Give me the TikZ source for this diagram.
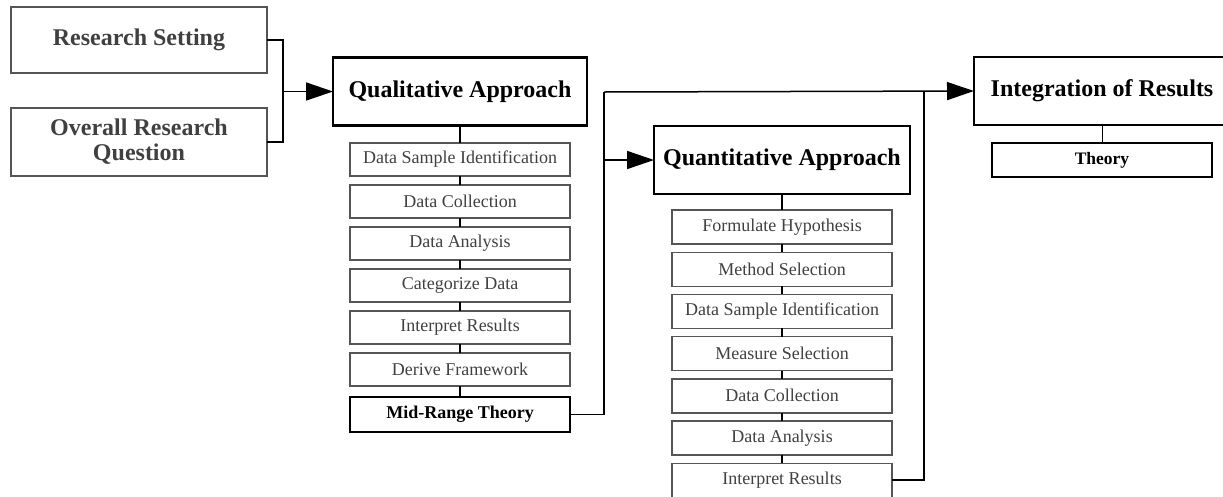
\documentclass[tikz,border=0pt]{standalone}
\usepackage{fontspec}
\setmainfont{Liberation Serif}
\usepackage{tikz}
\usetikzlibrary{arrows.meta}

\definecolor{txtgray}{HTML}{404040}
\definecolor{boxgray}{HTML}{555555}

\begin{document}
\begin{tikzpicture}[x=1pt,y=-1pt]
	\tikzstyle{every node}=[rectangle,outer sep=0pt,inner sep=0pt,align=center]
	\tikzstyle{inbox}=[draw=boxgray,line width=2.5pt,minimum width=256pt,text=txtgray,font=\fontsize{24}{25}\selectfont\bfseries]
	\tikzstyle{mainbox}=[draw=black,line width=2.8pt,minimum width=254pt,minimum height=68pt,font=\fontsize{24}{26}\selectfont\bfseries]
	\tikzstyle{stepbox}=[draw=boxgray,line width=1.4pt,minimum width=220pt,minimum height=33pt,text=txtgray,font=\fontsize{18}{20}\selectfont]
	\tikzstyle{resultbox}=[draw=black,line width=2.4pt,minimum width=220pt,minimum height=34pt,font=\fontsize{18}{20}\selectfont\bfseries]
	\tikzstyle{link}=[line width=1.5pt]
	\tikzstyle{arrow}=[line width=1.5pt,-{Triangle[length=27pt,width=18pt]}]
	
	\useasboundingbox (0,0) rectangle (1223,496);
	
	% inputs
	\node[inbox,minimum height=66pt] (setting) at (139,40) {Research Setting};
	\node[inbox,minimum height=68pt] (question) at (139,142) {Overall Research\\Question};
	
	% qualitative part
	\node[mainbox] (qual) at (460,91.5) {Qualitative Approach};
	\foreach \name/\txt [count=\i] in {qla/Data Sample Identification,qlb/Data Collection,qlc/Data Analysis,qld/Categorize Data,qle/Interpret Results,qlf/Derive Framework}
		\node[stepbox] (\name) at (460,117.5+42*\i) {\txt};
	\node[resultbox,minimum height=35pt] (midrange) at (460,414.5) {Mid-Range Theory};
	
	% quantitative part
	\node[mainbox,minimum width=256pt] (quant) at (782,160) {Quantitative Approach};
	\foreach \name/\txt [count=\i] in {qna/Formulate Hypothesis,qnb/Method Selection,qnc/Data Sample Identification,qnd/Measure Selection,qne/Data Collection,qnf/Data Analysis,qng/Interpret Results}
		\node[stepbox,minimum height=34pt] (\name) at (782,184.8+42.2*\i) {\txt};
	
	% integration
	\node[mainbox,minimum width=256pt] (integ) at (1102,91) {Integration of Results};
	\node[resultbox,font=\fontsize{17.5}{19}\selectfont\bfseries] (theory) at (1102,160) {Theory};
	
	% connectors
	\coordinate (infork) at (283,91.5);
	\draw[link] (setting.east) -| (infork) |- (question.east);
	\draw[arrow] (infork) -- (qual.west);
	
	\draw[link] (qual.south) -- (qla.north);
	\draw[link] (qla) -- (qlb) (qlb) -- (qlc) (qlc) -- (qld) (qld) -- (qle) (qle) -- (qlf) (qlf) -- (midrange);
	
	\draw[link] (quant.south) -- (qna.north);
	\draw[link] (qna) -- (qnb) (qnb) -- (qnc) (qnc) -- (qnd) (qnd) -- (qne) (qne) -- (qnf) (qnf) -- (qng);
	
	\coordinate (midturn) at (604,92);
	\coordinate (quantfork) at (604,160);
	\coordinate (outturn) at (924,92);
	\draw[link] (midrange.east) -| (midturn);
	\draw[arrow] (midturn) -- (integ.west);
	\draw[arrow] (quantfork) -- (quant.west);
	\draw[link] (qng.east) -| (outturn);
	
	\draw[line width=0.8pt] (integ.south) -- (theory.north);
\end{tikzpicture}
\end{document}
